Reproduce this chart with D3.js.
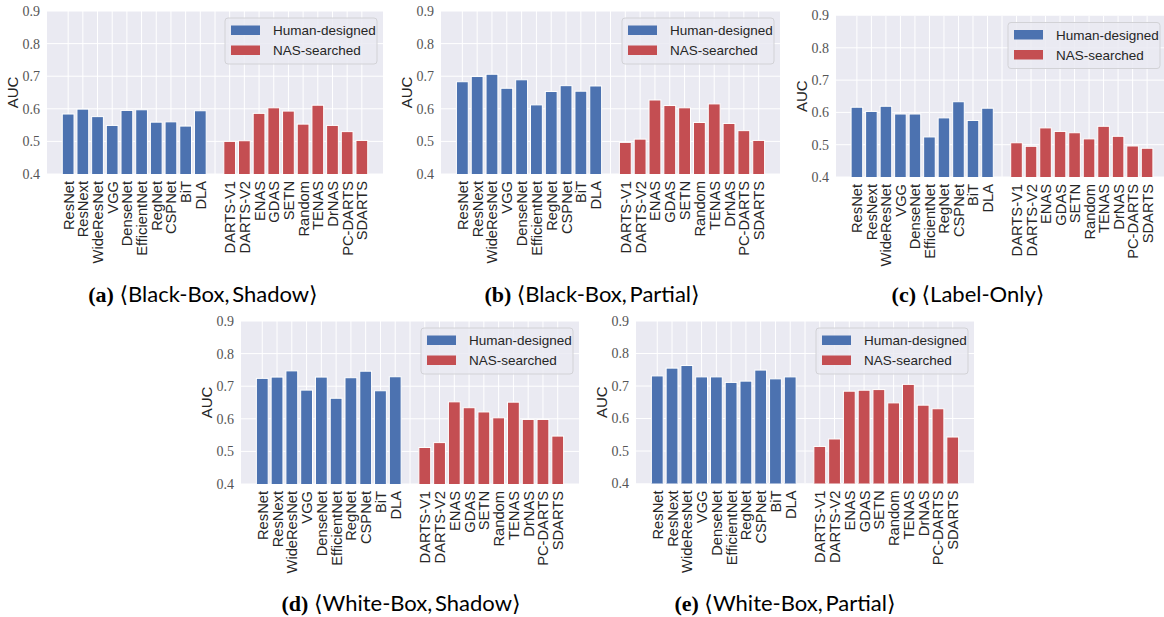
<!DOCTYPE html>
<html>
<head>
<meta charset="utf-8">
<script src="https://cdn.jsdelivr.net/npm/d3@7"></script>
<style>
  html, body { margin: 0; padding: 0; background: #fff; }
  svg { display: block; }
</style>
</head>
<body>
<svg id="fig" width="1164" height="617"></svg>
<script>
// Architectures on the x axis
const humanModels = ["ResNet", "ResNext", "WideResNet", "VGG", "DenseNet",
  "EfficientNet", "RegNet", "CSPNet", "BiT", "DLA"];
const nasModels = ["DARTS-V1", "DARTS-V2", "ENAS", "GDAS", "SETN",
  "Random", "TENAS", "DrNAS", "PC-DARTS", "SDARTS"];
const yTicks = [0.4, 0.5, 0.6, 0.7, 0.8, 0.9];
const legendLabels = ["Human-designed", "NAS-searched"];

// AUC per attack setting
const bbShadowHuman = [0.584, 0.599, 0.576, 0.549, 0.595, 0.597, 0.559, 0.560, 0.547, 0.594];
const bbShadowNas   = [0.500, 0.502, 0.586, 0.603, 0.593, 0.553, 0.611, 0.549, 0.530, 0.503];
const bbPartialHuman = [0.683, 0.699, 0.706, 0.663, 0.689, 0.612, 0.653, 0.671, 0.654, 0.670];
const bbPartialNas   = [0.497, 0.507, 0.627, 0.610, 0.603, 0.558, 0.615, 0.555, 0.533, 0.503];
const labelOnlyHuman = [0.616, 0.603, 0.619, 0.595, 0.595, 0.524, 0.583, 0.633, 0.575, 0.613];
const labelOnlyNas   = [0.506, 0.495, 0.552, 0.541, 0.537, 0.518, 0.557, 0.526, 0.496, 0.489];
const wbShadowHuman = [0.724, 0.728, 0.747, 0.688, 0.728, 0.663, 0.726, 0.746, 0.686, 0.729];
const wbShadowNas   = [0.512, 0.527, 0.652, 0.634, 0.621, 0.603, 0.651, 0.598, 0.598, 0.547];
const wbPartialHuman = [0.731, 0.755, 0.763, 0.728, 0.728, 0.711, 0.715, 0.749, 0.722, 0.728];
const wbPartialNas   = [0.514, 0.537, 0.684, 0.687, 0.689, 0.648, 0.705, 0.641, 0.630, 0.543];

// Subplot captions: tag + setting
const captionTags = ["(a)", "(b)", "(c)", "(d)", "(e)"];
const captionTexts = ["\u27E8Black-Box,\u2009Shadow\u27E9", "\u27E8Black-Box,\u2009Partial\u27E9",
  "\u27E8Label-Only\u27E9", "\u27E8White-Box,\u2009Shadow\u27E9", "\u27E8White-Box,\u2009Partial\u27E9"];

const panels = [
  { human: bbShadowHuman,  nas: bbShadowNas,  box: [47, 11, 383, 174],   cap: [203, 302] },
  { human: bbPartialHuman, nas: bbPartialNas, box: [441, 11, 780, 174],  cap: [592, 302] },
  { human: labelOnlyHuman, nas: labelOnlyNas, box: [836, 15.5, 1168, 177], cap: [968, 302] },
  { human: wbShadowHuman,  nas: wbShadowNas,  box: [241, 321, 579, 484], cap: [401, 611] },
  { human: wbPartialHuman, nas: wbPartialNas, box: [636, 321, 974, 483.5], cap: [785, 611] }
];

const BLUE = "#4C72B0", RED = "#C44E52", BG = "#EAEAF2";
const SANS = "'Liberation Sans', Arial, sans-serif";
const SERIF = "'Liberation Serif', 'Times New Roman', serif";

const svg = d3.select("#fig");
const defs = svg.append("defs");

panels.forEach((p, k) => {
  const [x0, y0, x1, y1] = p.box;
  const g = svg.append("g");

  const clipId = "clip" + k;
  defs.append("clipPath").attr("id", clipId)
    .append("rect").attr("x", x0).attr("y", y0).attr("width", x1 - x0).attr("height", y1 - y0);

  // slot 10 is the gap between the two families
  const cats = humanModels.concat([""], nasModels);
  const x = d3.scaleLinear().domain([-1.44, cats.length - 1 + 1.44]).range([x0, x1]);
  const y = d3.scaleLinear().domain([0.4, 0.9]).range([y1, y0]);

  g.append("rect").attr("x", x0).attr("y", y0).attr("width", x1 - x0).attr("height", y1 - y0)
    .attr("fill", BG);

  const plot = g.append("g").attr("clip-path", `url(#${clipId})`);

  // grid
  plot.selectAll(".gy").data(yTicks).join("line")
    .attr("x1", x0).attr("x2", x1)
    .attr("y1", d => y(d)).attr("y2", d => y(d))
    .attr("stroke", "#fff").attr("stroke-width", 1);
  plot.selectAll(".gx").data(d3.range(cats.length)).join("line")
    .attr("x1", d => x(d)).attr("x2", d => x(d))
    .attr("y1", y0).attr("y2", y1)
    .attr("stroke", "#fff").attr("stroke-width", 1);

  const bars = p.human.map((v, i) => ({ i, v, c: BLUE }))
    .concat(p.nas.map((v, i) => ({ i: i + 11, v, c: RED })));
  const w = x(0.8) - x(0);
  plot.selectAll(".bar").data(bars).join("rect")
    .attr("x", d => x(d.i) - w / 2)
    .attr("width", w)
    .attr("y", d => y(d.v))
    .attr("height", d => y(0.4) - y(d.v) + 1)
    .attr("fill", d => d.c)
    .attr("stroke", "#fff").attr("stroke-width", 1);

  // y axis
  const ya = d3.axisLeft(y).tickValues(yTicks).tickFormat(d3.format(".1f")).tickSize(0).tickPadding(7);
  const yg = g.append("g").attr("transform", `translate(${x0},0)`).call(ya);
  yg.select(".domain").remove();
  yg.selectAll("text").attr("font-family", SERIF).attr("font-size", 14).attr("fill", "#555");

  // x axis with rotated labels
  const xa = d3.axisBottom(x).tickValues(d3.range(cats.length)).tickFormat(i => cats[i]).tickSize(0);
  const xg = g.append("g").attr("transform", `translate(0,${y1})`).call(xa);
  xg.select(".domain").remove();
  xg.selectAll("text")
    .attr("font-family", SANS).attr("font-size", 14.7).attr("fill", "#262626")
    .attr("text-anchor", "end")
    .attr("dy", null).attr("y", 0)
    .attr("transform", "translate(5,7) rotate(-90)");

  // y label
  g.append("text")
    .attr("transform", `translate(${x0 - 29},${(y0 + y1) / 2}) rotate(-90)`)
    .attr("text-anchor", "middle")
    .attr("font-family", SANS).attr("font-size", 15).attr("fill", "#262626")
    .text("AUC");

  // legend
  const lw = 152, lh = 46;
  const lx = x1 - 6 - lw, ly = y0 + 7;
  const lg = g.append("g").attr("transform", `translate(${Math.min(lx, 1164 - 4 - lw)},${ly})`);
  lg.append("rect").attr("width", lw).attr("height", lh).attr("rx", 3)
    .attr("fill", BG).attr("fill-opacity", 0.85)
    .attr("stroke", "#d2d2d6").attr("stroke-width", 1);
  legendLabels.forEach((lab, j) => {
    lg.append("rect").attr("x", 6).attr("y", 7.5 + j * 20).attr("width", 29).attr("height", 9.5)
      .attr("fill", j === 0 ? BLUE : RED);
    lg.append("text").attr("x", 48).attr("y", 17 + j * 20)
      .attr("font-family", SANS).attr("font-size", 13.5).attr("fill", "#262626")
      .text(lab);
  });

  // caption
  const cap = svg.append("text")
    .attr("x", p.cap[0]).attr("y", p.cap[1])
    .attr("text-anchor", "middle")
    .attr("font-size", 22).attr("fill", "#000");
  cap.append("tspan").attr("font-family", SERIF).attr("font-weight", "bold").text(captionTags[k] + " ");
  cap.append("tspan").attr("font-family", "Lato, 'Liberation Sans', 'DejaVu Sans', sans-serif")
    .text(captionTexts[k]);
});
</script>
</body>
</html>
